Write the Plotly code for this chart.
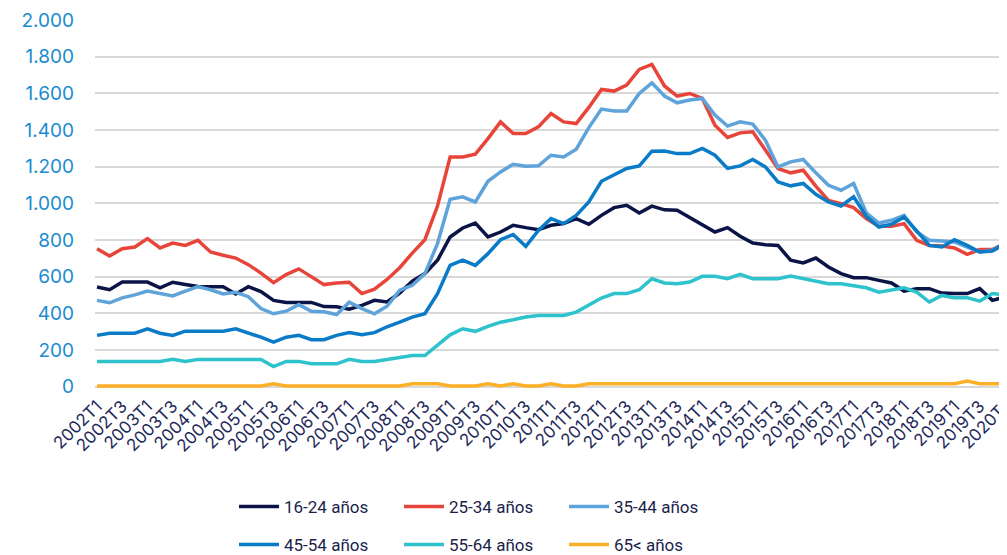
import plotly.graph_objects as go

quarters = [f"{y}T{q}" for y in range(2002, 2020) for q in range(1, 5)] + ["2020T1"]

series_names = ["16-24 años", "25-34 años", "35-44 años", "45-54 años", "55-64 años", "65< años"]
colors = ["#0B1446", "#E8453A", "#5FA3DB", "#0A7BC6", "#2EC2CC", "#FBB027"]

v16_24 = [543, 528, 570, 570, 570, 539, 569, 557, 546, 545, 545, 505, 545, 518, 470, 459, 459, 459, 436, 435,
          422, 443, 470, 461, 510, 575, 616, 689, 816, 865,
          892, 816, 843, 880, 867, 856, 880, 889, 916, 885,
          934, 976, 989, 947, 984, 964, 962, 922, 885, 843,
          867, 820, 783, 774, 770, 689, 674, 701, 652, 616,
          594, 594, 579, 565, 521, 534, 534, 510, 507, 507,
          534, 470, 488]
v25_34 = [752, 712, 752, 761, 807, 756, 783, 770, 798, 734, 716, 701, 665, 619, 567, 611, 642, 601, 556, 565,
          569, 507, 531, 584, 648, 728, 801, 985, 1253, 1253,
          1268, 1353, 1444, 1381, 1381, 1417, 1490, 1444, 1435, 1523,
          1621, 1612, 1645, 1730, 1758, 1640, 1585, 1599, 1572, 1426,
          1359, 1384, 1390, 1290, 1190, 1166, 1180, 1093, 1016, 998,
          976, 916, 874, 874, 889, 798, 770, 767, 756, 721,
          747, 747, 783]
v35_44 = [470, 457, 484, 500, 521, 507, 494, 520, 545, 528, 505, 514, 490, 425, 397, 411, 447, 411, 408, 393,
          460, 425, 397, 438, 525, 552, 616, 780, 1022, 1035,
          1007, 1120, 1171, 1213, 1202, 1204, 1262, 1253, 1295, 1413,
          1514, 1503, 1503, 1599, 1657, 1585, 1548, 1563, 1572, 1481,
          1421, 1444, 1432, 1344, 1198, 1226, 1239, 1166, 1098, 1071,
          1108, 947, 892, 907, 934, 843, 798, 794, 789, 761,
          734, 743, 783]
v45_54 = [279, 291, 291, 291, 315, 291, 279, 302, 302, 302, 302, 315, 294, 269, 242, 269, 279, 255, 255, 279,
          294, 282, 294, 326, 351, 379, 397, 507, 661, 689,
          661, 725, 801, 829, 765, 852, 916, 889, 934, 1007,
          1120, 1153, 1190, 1204, 1284, 1285, 1271, 1271, 1299, 1262,
          1190, 1204, 1239, 1198, 1116, 1095, 1108, 1049, 1007, 985,
          1035, 929, 870, 885, 925, 849, 770, 761, 801, 770,
          734, 739, 780]
v55_64 = [137, 137, 137, 137, 137, 137, 148, 137, 148, 148, 148, 148, 148, 148, 109, 137, 137, 124, 124, 124,
          148, 137, 137, 148, 157, 169, 169, 224, 282, 315,
          301, 328, 351, 364, 379, 388, 388, 388, 406, 443,
          483, 507, 507, 528, 588, 565, 561, 570, 601, 601,
          588, 612, 588, 588, 588, 603, 588, 575, 561, 561,
          552, 539, 515, 525, 539, 515, 461, 497, 485, 485,
          466, 507, 500]
v65 = [3, 3, 3, 3, 3, 3, 3, 3, 3, 3, 3, 3, 3, 3, 15, 3, 3, 3, 3, 3,
       3, 3, 3, 3, 3, 15, 15, 15, 3, 3,
       3, 15, 3, 15, 3, 3, 15, 3, 3, 15,
       15, 15, 15, 15, 15, 15, 15, 15, 15, 15,
       15, 15, 15, 15, 15, 15, 15, 15, 15, 15,
       15, 15, 15, 15, 15, 15, 15, 15, 15, 30,
       15, 15, 15]

y_tickvals = [0, 200, 400, 600, 800, 1000, 1200, 1400, 1600, 1800, 2000]
y_ticktext = ["0", "200", "400", "600", "800", "1.000", "1.200", "1.400", "1.600", "1.800", "2.000"]

all_values = [v16_24, v25_34, v35_44, v45_54, v55_64, v65]

# page body has an 8px margin: the figure is sized/offset to compensate
FIG_W, FIG_H = 999, 547

fig = go.Figure()
for k, (name, vals, col) in enumerate(zip(series_names, all_values, colors)):
    fig.add_trace(go.Scatter(
        x=quarters, y=vals, name=name, mode="lines",
        line=dict(color=col, width=3.5),
        legend="legend" if k < 3 else "legend2",
    ))

legend_common = dict(
    orientation="h", xanchor="left", yanchor="middle",
    xref="container", yref="container",
    font=dict(family="Roboto", size=17, color="#1B1F4B"),
    entrywidth=110, entrywidthmode="pixels",
    bgcolor="rgba(0,0,0,0)", itemwidth=40,
)

fig.update_layout(
    width=FIG_W, height=FIG_H,
    margin=dict(l=87, r=0, t=12, b=163, autoexpand=False),
    plot_bgcolor="white", paper_bgcolor="white",
    showlegend=True,
    legend=dict(x=226 / FIG_W, y=1 - 499 / FIG_H, **legend_common),
    legend2=dict(x=226 / FIG_W, y=1 - 537 / FIG_H, **legend_common),
    xaxis=dict(
        type="category", range=[-0.16, 72.16],
        tickmode="array", tickvals=quarters[::2],
        tickangle=-45, showgrid=False, zeroline=False, showline=False,
        tickfont=dict(family="Inter", size=17, color="#1F2A5A"),
        ticks="", automargin=False,
    ),
    yaxis=dict(
        range=[-30, 2000], tickmode="array", tickvals=y_tickvals, ticktext=y_ticktext,
        showgrid=True, gridcolor="#D9D9D9", gridwidth=1.5, zeroline=False, showline=False,
        tickfont=dict(family="Inter", size=19, color="#1B8BD0"),
        ticklabelstandoff=20, automargin=False,
    ),
)

fig.write_html("out.html")
